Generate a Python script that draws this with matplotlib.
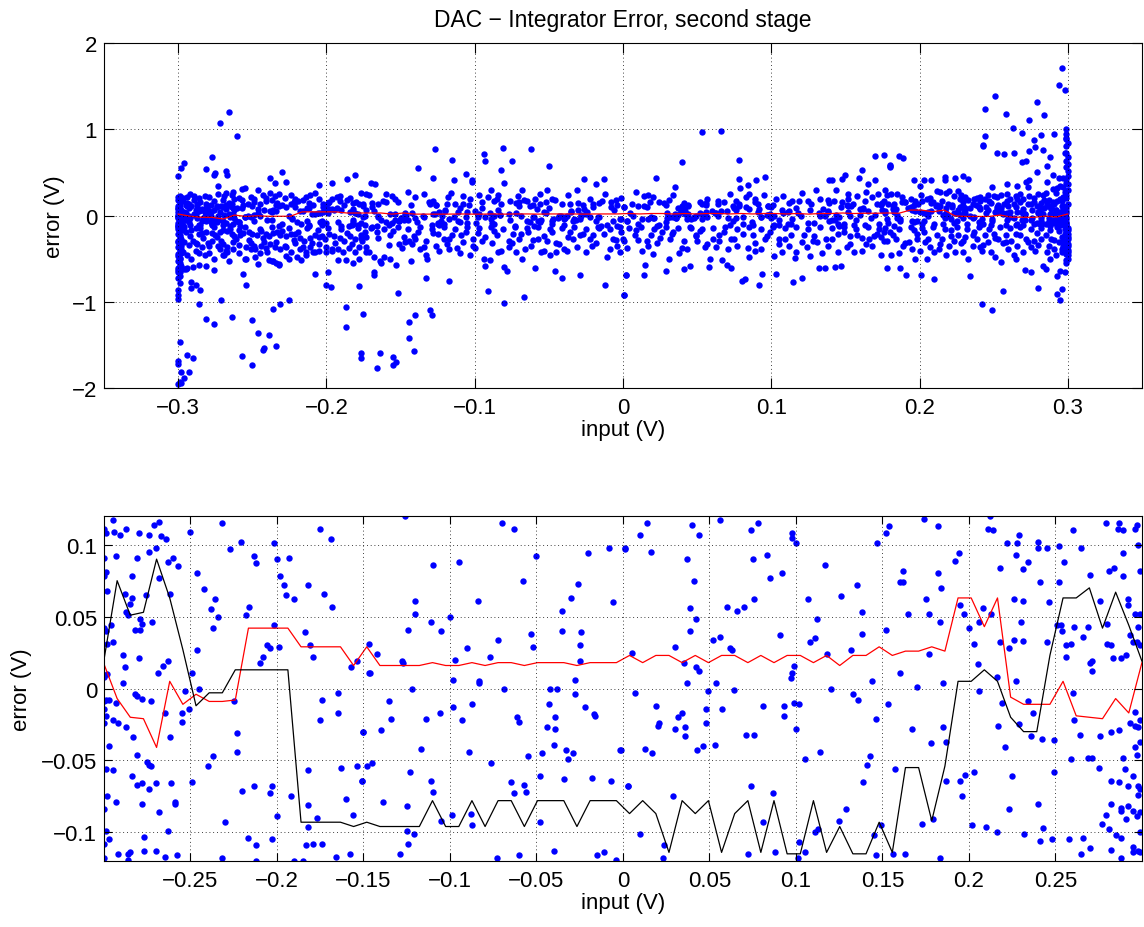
import numpy as np
import matplotlib
matplotlib.use('Agg')
import matplotlib.pyplot as plt
from matplotlib.ticker import FuncFormatter

plt.rcParams['font.family'] = ['Liberation Sans', 'DejaVu Sans']

# Bin centres of the input sweep (V)
bin_centres = [-0.3000, -0.2924, -0.2848, -0.2772, -0.2696, -0.2620, -0.2544, -0.2468,
               -0.2392, -0.2316, -0.2241, -0.2165, -0.2089, -0.2013, -0.1937, -0.1861,
               -0.1785, -0.1709, -0.1633, -0.1557, -0.1481, -0.1405, -0.1329, -0.1253,
               -0.1177, -0.1101, -0.1025, -0.0949, -0.0873, -0.0797, -0.0722, -0.0646,
               -0.0570, -0.0494, -0.0418, -0.0342, -0.0266, -0.0190, -0.0114, -0.0038,
               0.0038, 0.0114, 0.0190, 0.0266, 0.0342, 0.0418, 0.0494, 0.0570,
               0.0646, 0.0722, 0.0797, 0.0873, 0.0949, 0.1025, 0.1101, 0.1177,
               0.1253, 0.1329, 0.1405, 0.1481, 0.1557, 0.1633, 0.1709, 0.1785,
               0.1861, 0.1937, 0.2013, 0.2089, 0.2165, 0.2241, 0.2316, 0.2392,
               0.2468, 0.2544, 0.2620, 0.2696, 0.2772, 0.2848, 0.2924, 0.3000]

# Per-bin mean error (red)
bin_mean = [0.017, -0.007, -0.020, -0.021, -0.041, 0.005, -0.011, -0.004, -0.009, -0.009,
            -0.008, 0.042, 0.042, 0.042, 0.042, 0.029, 0.029, 0.029, 0.029, 0.016,
            0.029, 0.016, 0.016, 0.016, 0.016, 0.018, 0.016, 0.016, 0.018, 0.016,
            0.018, 0.018, 0.016, 0.018, 0.018, 0.018, 0.016, 0.018, 0.018, 0.018,
            0.023, 0.018, 0.023, 0.023, 0.018, 0.023, 0.018, 0.023, 0.023, 0.018,
            0.023, 0.018, 0.023, 0.023, 0.018, 0.023, 0.016, 0.023, 0.023, 0.029,
            0.023, 0.026, 0.026, 0.029, 0.026, 0.063, 0.063, 0.043, 0.063, -0.006,
            -0.011, -0.011, -0.011, 0.005, -0.019, -0.020, -0.021, -0.007, -0.017, 0.018]

# Per-bin median error (black)
bin_median = [0.020, 0.075, 0.051, 0.053, 0.090, 0.063, 0.027, -0.012, -0.003, -0.003,
              0.013, 0.013, 0.013, 0.013, 0.013, -0.093, -0.093, -0.093, -0.093, -0.096,
              -0.093, -0.096, -0.096, -0.096, -0.096, -0.078, -0.096, -0.096, -0.078, -0.096,
              -0.078, -0.078, -0.096, -0.078, -0.078, -0.078, -0.096, -0.078, -0.078, -0.078,
              -0.087, -0.078, -0.087, -0.114, -0.078, -0.087, -0.078, -0.114, -0.087, -0.078,
              -0.114, -0.078, -0.115, -0.115, -0.078, -0.114, -0.096, -0.115, -0.115, -0.093,
              -0.114, -0.055, -0.055, -0.092, -0.054, 0.005, 0.005, 0.013, 0.005, -0.020,
              -0.030, -0.030, 0.023, 0.063, 0.063, 0.070, 0.042, 0.067, 0.044, 0.019]

# Samples (input V, error V) with small error, left to right
fine_a = [(-0.295, 0.117), (-0.300, 0.111), (-0.299, 0.108), (-0.294, 0.109), (-0.291, 0.107),
          (-0.287, 0.111), (-0.280, 0.108), (-0.274, 0.107), (-0.271, 0.114), (-0.268, 0.116),
          (-0.267, 0.106), (-0.264, 0.104), (-0.250, 0.109), (-0.232, 0.115), (-0.221, 0.102),
          (-0.227, 0.097), (-0.202, 0.101), (-0.213, 0.092), (-0.212, 0.087), (-0.200, 0.090),
          (-0.193, 0.091), (-0.175, 0.111), (-0.169, 0.104), (-0.274, 0.095), (-0.270, 0.098),
          (-0.293, 0.092), (-0.281, 0.091), (-0.300, 0.091), (-0.263, 0.088), (-0.260, 0.091),
          (-0.257, 0.085), (-0.300, 0.078), (-0.299, 0.081), (-0.284, 0.078), (-0.268, 0.077),
          (-0.246, 0.080), (-0.242, 0.069), (-0.236, 0.062), (-0.238, 0.055), (-0.234, 0.050),
          (-0.237, 0.042), (-0.198, 0.078), (-0.196, 0.072), (-0.195, 0.065), (-0.190, 0.062),
          (-0.182, 0.072), (-0.173, 0.066), (-0.168, 0.057), (-0.216, 0.057), (-0.218, 0.051),
          (-0.298, 0.068), (-0.288, 0.066), (-0.284, 0.063), (-0.285, 0.059), (-0.287, 0.053),
          (-0.286, 0.051), (-0.279, 0.048), (-0.278, 0.045), (-0.272, 0.046), (-0.282, 0.041),
          (-0.279, 0.041), (-0.300, 0.042), (-0.299, 0.040), (-0.296, 0.044), (-0.298, 0.031),
          (-0.295, 0.032), (-0.202, 0.044), (-0.206, 0.030), (-0.204, 0.028), (-0.199, 0.029),
          (-0.208, 0.022), (-0.210, 0.018), (-0.246, 0.027), (-0.289, 0.023), (-0.280, 0.021),
          (-0.288, 0.015), (-0.262, 0.066), (-0.276, 0.065), (-0.269, 0.011), (-0.266, 0.016),
          (-0.263, 0.019), (-0.184, 0.039), (-0.181, 0.030), (-0.179, 0.022), (-0.157, 0.015),
          (-0.154, 0.019), (-0.147, 0.011), (-0.300, 0.008), (-0.298, 0.010), (-0.289, 0.004),
          (-0.249, 0.011), (-0.245, 0.000), (-0.253, -0.002), (-0.251, -0.014), (-0.255, -0.017),
          (-0.255, -0.023), (-0.225, -0.009), (-0.293, -0.010), (-0.282, -0.004), (-0.281, -0.005),
          (-0.278, -0.007), (-0.273, -0.009), (-0.300, -0.009), (-0.299, -0.008), (-0.297, -0.008),
          (-0.300, -0.014), (-0.299, -0.019), (-0.300, -0.024), (-0.295, -0.022), (-0.292, -0.024),
          (-0.287, -0.027), (-0.265, -0.017), (-0.262, -0.034), (-0.283, -0.034), (-0.297, -0.040),
          (-0.281, -0.046), (-0.275, -0.051), (-0.274, -0.053), (-0.273, -0.054), (-0.223, -0.031),
          (-0.223, -0.044), (-0.237, -0.047), (-0.240, -0.054), (-0.165, -0.003), (-0.174, -0.008),
          (-0.175, -0.022), (-0.165, -0.017), (-0.150, -0.030), (-0.163, -0.055), (-0.154, -0.054),
          (-0.151, -0.064), (-0.299, -0.056), (-0.295, -0.057), (-0.284, -0.061), (-0.281, -0.067),
          (-0.278, -0.066), (-0.274, -0.070), (-0.270, -0.066), (-0.261, -0.066), (-0.249, -0.065),
          (-0.220, -0.071), (-0.213, -0.068), (-0.203, -0.068), (-0.204, -0.073), (-0.192, -0.075),
          (-0.182, -0.057), (-0.182, -0.081), (-0.182, -0.096), (-0.177, -0.090), (-0.160, -0.077),
          (-0.156, -0.088), (-0.298, -0.075), (-0.293, -0.079), (-0.278, -0.080), (-0.268, -0.086),
          (-0.259, -0.080), (-0.259, -0.079), (-0.300, -0.084), (-0.299, -0.099), (-0.297, -0.105),
          (-0.300, -0.108), (-0.263, -0.099), (-0.277, -0.103), (-0.230, -0.093), (-0.217, -0.104),
          (-0.212, -0.109), (-0.203, -0.105), (-0.200, -0.089), (-0.183, -0.109), (-0.179, -0.108),
          (-0.174, -0.108), (-0.292, -0.115), (-0.286, -0.115), (-0.285, -0.114), (-0.277, -0.113),
          (-0.270, -0.113), (-0.258, -0.116), (-0.265, -0.117), (-0.286, -0.119), (-0.300, -0.118),
          (-0.232, -0.118), (-0.212, -0.120), (-0.190, -0.120), (-0.185, -0.120), (-0.166, -0.117),
          (-0.158, -0.115)]

fine_b = [(-0.126, 0.120), (-0.070, 0.115), (-0.063, 0.111), (-0.110, 0.086), (-0.095, 0.088),
          (-0.058, 0.075), (-0.050, 0.092), (-0.020, 0.094), (-0.008, 0.098), (0.001, 0.098),
          (-0.120, 0.061), (-0.120, 0.052), (-0.124, 0.041), (-0.111, 0.046), (-0.105, 0.040),
          (-0.100, 0.050), (-0.084, 0.061), (-0.072, 0.034), (-0.053, 0.038), (-0.052, 0.029),
          (-0.035, 0.054), (-0.030, 0.063), (-0.026, 0.073), (-0.035, 0.040), (-0.024, 0.039),
          (-0.025, 0.030), (-0.025, 0.019), (-0.006, 0.060), (-0.147, 0.031), (-0.142, 0.024),
          (-0.128, 0.019), (-0.127, 0.018), (-0.146, 0.011), (-0.097, 0.020), (-0.090, 0.028),
          (-0.077, 0.022), (-0.098, 0.006), (-0.083, 0.004), (-0.083, 0.005), (-0.069, 0.000),
          (-0.122, 0.000), (-0.028, 0.006), (-0.042, 0.000), (-0.038, 0.000), (-0.150, -0.030),
          (-0.140, -0.029), (-0.135, -0.009), (-0.134, -0.021), (-0.106, -0.017), (-0.114, -0.021),
          (-0.098, -0.013), (-0.093, -0.022), (-0.087, -0.011), (-0.061, -0.020), (-0.060, -0.023),
          (-0.043, -0.011), (-0.039, -0.020), (-0.039, -0.028), (-0.044, -0.027), (-0.040, -0.039),
          (-0.028, -0.004), (-0.022, -0.013), (-0.017, -0.018), (-0.016, -0.019), (-0.033, -0.043),
          (-0.032, -0.049), (-0.029, -0.045), (-0.047, -0.045), (-0.055, -0.047), (-0.089, -0.044),
          (-0.117, -0.042), (-0.002, -0.043), (-0.148, -0.054), (-0.145, -0.052), (-0.151, -0.064),
          (-0.123, -0.058), (-0.111, -0.064), (-0.110, -0.072), (-0.076, -0.052), (-0.065, -0.065),
          (-0.063, -0.073), (-0.057, -0.067), (-0.056, -0.072), (-0.048, -0.061), (-0.034, -0.063),
          (-0.018, -0.062), (-0.007, -0.064), (0.003, -0.068), (-0.139, -0.079), (-0.125, -0.082),
          (-0.105, -0.092), (-0.099, -0.088), (-0.088, -0.087), (-0.087, -0.095), (-0.048, -0.093),
          (-0.125, -0.099), (-0.121, -0.101), (-0.124, -0.108), (-0.129, -0.115), (-0.073, -0.118),
          (-0.060, -0.116), (-0.040, -0.113), (-0.015, -0.116), (-0.011, -0.114), (-0.004, -0.119)]

fine_c = [(0.014, 0.115), (0.010, 0.107), (0.001, 0.097), (0.016, 0.095), (0.040, 0.114),
          (0.044, 0.107), (0.037, 0.090), (0.041, 0.075), (0.056, 0.117), (0.078, 0.115),
          (0.074, 0.110), (0.075, 0.090), (0.083, 0.093), (0.085, 0.077), (0.092, 0.080),
          (0.098, 0.108), (0.098, 0.105), (0.100, 0.101), (0.117, 0.086), (0.147, 0.101),
          (0.039, 0.056), (0.042, 0.048), (0.039, 0.040), (0.060, 0.057), (0.066, 0.054),
          (0.070, 0.057), (0.076, 0.062), (0.052, 0.034), (0.056, 0.036), (0.062, 0.028),
          (0.063, 0.027), (0.091, 0.037), (0.107, 0.062), (0.112, 0.048), (0.111, 0.035),
          (0.108, 0.032), (0.126, 0.064), (0.135, 0.072), (0.138, 0.053), (0.138, 0.038),
          (0.132, 0.027), (0.005, 0.025), (0.030, 0.029), (0.035, 0.018), (0.042, 0.015),
          (0.044, 0.012), (0.037, 0.004), (0.049, -0.002), (0.054, 0.004), (0.064, -0.001),
          (0.099, 0.016), (0.098, 0.011), (0.097, 0.007), (0.118, 0.024), (0.120, 0.000),
          (0.144, 0.005), (0.007, -0.003), (0.019, -0.012), (0.021, -0.024), (0.020, -0.026),
          (0.032, -0.020), (0.034, -0.017), (0.030, -0.028), (0.036, -0.027), (0.036, -0.033),
          (0.048, -0.014), (0.048, -0.024), (0.057, -0.014), (0.043, -0.043), (0.046, -0.040),
          (0.053, -0.039), (0.071, -0.032), (0.076, -0.032), (0.081, -0.012), (0.093, -0.012),
          (0.093, -0.019), (0.099, -0.010), (0.102, -0.011), (0.100, -0.028), (0.105, -0.049),
          (0.114, -0.044), (0.133, -0.004), (0.136, -0.008), (0.146, -0.021), (-0.001, -0.043),
          (0.013, -0.042), (0.017, -0.045), (0.143, -0.047), (0.141, -0.053), (0.139, -0.065),
          (0.003, -0.068), (0.029, -0.075), (0.074, -0.068), (0.087, -0.073), (0.081, -0.093),
          (0.129, -0.084), (0.125, -0.092), (0.010, -0.101), (0.024, -0.109), (0.023, -0.118),
          (0.072, -0.115), (0.088, -0.114), (0.102, -0.107), (0.105, -0.114), (0.101, -0.118),
          (0.111, -0.100), (0.113, -0.098), (0.145, -0.102), (0.149, -0.095), (0.146, -0.116)]

fine_d = [(0.152, 0.108), (0.154, 0.113), (0.174, 0.118), (0.182, 0.113), (0.212, 0.120),
          (0.211, 0.111), (0.214, 0.110), (0.222, 0.101), (0.228, 0.101), (0.229, 0.107),
          (0.240, 0.102), (0.240, 0.098), (0.245, 0.098), (0.252, 0.099), (0.260, 0.110),
          (0.265, 0.098), (0.279, 0.115), (0.286, 0.111), (0.287, 0.115), (0.289, 0.110),
          (0.296, 0.111), (0.297, 0.114), (0.298, 0.100), (0.194, 0.094), (0.192, 0.089),
          (0.162, 0.082), (0.160, 0.074), (0.162, 0.074), (0.182, 0.080), (0.184, 0.070),
          (0.175, 0.062), (0.165, 0.052), (0.177, 0.052), (0.183, 0.046), (0.195, 0.058),
          (0.197, 0.052), (0.208, 0.056), (0.213, 0.052), (0.200, 0.042), (0.206, 0.046),
          (0.218, 0.084), (0.227, 0.093), (0.231, 0.083), (0.234, 0.088), (0.226, 0.062),
          (0.231, 0.061), (0.230, 0.046), (0.231, 0.033), (0.226, 0.034), (0.241, 0.074),
          (0.246, 0.060), (0.252, 0.074), (0.255, 0.088), (0.270, 0.079), (0.281, 0.082),
          (0.284, 0.084), (0.289, 0.078), (0.289, 0.094), (0.276, 0.061), (0.292, 0.062),
          (0.299, 0.082), (0.296, 0.052), (0.299, 0.052), (0.292, 0.058), (0.251, 0.044),
          (0.253, 0.044), (0.254, 0.040), (0.261, 0.043), (0.266, 0.036), (0.269, 0.043),
          (0.256, 0.030), (0.259, 0.031), (0.245, 0.032), (0.256, 0.022), (0.270, 0.018),
          (0.271, 0.019), (0.271, 0.012), (0.280, 0.045), (0.280, 0.031), (0.282, 0.030),
          (0.283, 0.021), (0.288, 0.021), (0.291, 0.023), (0.293, 0.037), (0.295, 0.032),
          (0.297, 0.032), (0.298, 0.043), (0.299, 0.030), (0.152, 0.041), (0.177, 0.024),
          (0.160, 0.011), (0.170, 0.001), (0.185, 0.004), (0.153, -0.011), (0.167, -0.028),
          (0.178, -0.038), (0.185, -0.027), (0.187, -0.037), (0.203, 0.031), (0.205, 0.017),
          (0.206, -0.002), (0.216, 0.008), (0.218, 0.032), (0.223, 0.028), (0.227, 0.005),
          (0.219, -0.010), (0.217, -0.026), (0.221, -0.041), (0.229, -0.025), (0.234, -0.009),
          (0.237, -0.017), (0.236, -0.033), (0.242, -0.035), (0.249, -0.036), (0.260, -0.003),
          (0.261, -0.022), (0.264, -0.032), (0.276, -0.033), (0.282, -0.030), (0.287, -0.029),
          (0.293, -0.024), (0.296, -0.016), (0.296, -0.026), (0.298, -0.027), (0.299, -0.022),
          (0.299, -0.037), (0.296, -0.041), (0.297, -0.046), (0.289, -0.048), (0.269, -0.048),
          (0.271, -0.048), (0.259, -0.049), (0.275, -0.055), (0.282, -0.064), (0.287, -0.065),
          (0.290, -0.056), (0.292, -0.068), (0.295, -0.061), (0.298, -0.068), (0.298, -0.074),
          (0.299, -0.070), (0.282, -0.080), (0.279, -0.088), (0.277, -0.094), (0.281, -0.098),
          (0.288, -0.083), (0.288, -0.085), (0.292, -0.082), (0.291, -0.091), (0.295, -0.085),
          (0.297, -0.089), (0.299, -0.086), (0.285, -0.102), (0.288, -0.104), (0.299, -0.100),
          (0.295, -0.110), (0.298, -0.113), (0.299, -0.114), (0.295, -0.114), (0.282, -0.112),
          (0.288, -0.118), (0.270, -0.111), (0.265, -0.115), (0.266, -0.104), (0.258, -0.105),
          (0.248, -0.105), (0.241, -0.106), (0.243, -0.097), (0.240, -0.080), (0.232, -0.101),
          (0.249, -0.058), (0.225, -0.061), (0.223, -0.084), (0.216, -0.100), (0.210, -0.096),
          (0.202, -0.095), (0.203, -0.058), (0.198, -0.060), (0.195, -0.064), (0.196, -0.075),
          (0.187, -0.064), (0.157, -0.056), (0.173, -0.094), (0.179, -0.091), (0.156, -0.115),
          (0.163, -0.115), (0.183, -0.118)]

# Samples with larger error (only inside the upper panel's range)
wide_a = [(-0.266, 1.20), (-0.272, 1.07), (-0.260, 0.92), (-0.277, 0.68), (-0.296, 0.61),
          (-0.298, 0.55), (-0.300, 0.46), (-0.281, 0.54), (-0.275, 0.49), (-0.276, 0.47),
          (-0.268, 0.52), (-0.267, 0.47), (-0.273, 0.34), (-0.238, 0.43), (-0.230, 0.51),
          (-0.235, 0.38), (-0.227, 0.39), (-0.205, 0.35), (-0.196, 0.38), (-0.186, 0.42),
          (-0.181, 0.47),
          (-0.299, 0.230), (-0.297, 0.205), (-0.294, 0.218), (-0.292, 0.247), (-0.289, 0.226),
          (-0.286, 0.198), (-0.282, 0.231), (-0.279, 0.212), (-0.273, 0.252), (-0.269, 0.224),
          (-0.268, 0.262), (-0.264, 0.236), (-0.259, 0.198), (-0.251, 0.214), (-0.243, 0.241),
          (-0.235, 0.228), (-0.232, 0.255), (-0.228, 0.207), (-0.224, 0.238), (-0.214, 0.219),
          (-0.211, 0.243), (-0.191, 0.226), (-0.173, 0.248), (-0.263, 0.27), (-0.257, 0.31),
          (-0.255, 0.32), (-0.246, 0.30), (-0.238, 0.26), (-0.208, 0.26), (-0.177, 0.26),
          (-0.299, 0.185), (-0.297, 0.163), (-0.294, 0.142), (-0.289, 0.176), (-0.285, 0.158),
          (-0.281, 0.128), (-0.276, 0.167), (-0.270, 0.181), (-0.264, 0.139), (-0.262, 0.188),
          (-0.257, 0.174), (-0.253, 0.131), (-0.249, 0.196), (-0.249, 0.152), (-0.241, 0.166),
          (-0.241, 0.204), (-0.237, 0.178), (-0.233, 0.149), (-0.230, 0.127), (-0.224, 0.136),
          (-0.221, 0.189), (-0.221, 0.161), (-0.219, 0.172), (-0.216, 0.183), (-0.212, 0.144),
          (-0.205, 0.194), (-0.202, 0.133), (-0.200, 0.122), (-0.198, 0.157), (-0.196, 0.186),
          (-0.193, 0.212), (-0.191, 0.168), (-0.186, 0.175), (-0.184, 0.201), (-0.182, 0.147),
          (-0.180, 0.158), (-0.175, 0.129),
          (-0.293, 0.128), (-0.287, 0.139), (-0.278, 0.126), (-0.266, 0.149), (-0.256, 0.122),
          (-0.245, 0.138), (-0.234, 0.124), (-0.222, 0.151), (-0.209, 0.127), (-0.199, 0.143),
          (-0.188, 0.125), (-0.178, 0.139),
          (-0.299, -0.15), (-0.297, -0.17), (-0.295, -0.19), (-0.291, -0.17), (-0.288, -0.15),
          (-0.286, -0.21), (-0.284, -0.20), (-0.281, -0.186), (-0.277, -0.20), (-0.275, -0.23),
          (-0.272, -0.194), (-0.270, -0.17), (-0.267, -0.183), (-0.264, -0.21), (-0.262, -0.24),
          (-0.259, -0.17), (-0.256, -0.20), (-0.252, -0.192), (-0.250, -0.21), (-0.247, -0.23),
          (-0.244, -0.185), (-0.241, -0.22), (-0.239, -0.24), (-0.236, -0.20), (-0.233, -0.196),
          (-0.231, -0.23), (-0.227, -0.24), (-0.224, -0.22), (-0.221, -0.21), (-0.218, -0.26),
          (-0.215, -0.29), (-0.211, -0.26), (-0.208, -0.23), (-0.205, -0.25), (-0.201, -0.27),
          (-0.198, -0.21), (-0.195, -0.24), (-0.191, -0.26), (-0.188, -0.29), (-0.184, -0.24),
          (-0.181, -0.27), (-0.177, -0.26), (-0.173, -0.25),
          (-0.299, -0.27), (-0.296, -0.31), (-0.293, -0.34), (-0.290, -0.29), (-0.287, -0.33),
          (-0.284, -0.37), (-0.280, -0.32), (-0.277, -0.30), (-0.273, -0.35), (-0.270, -0.33),
          (-0.267, -0.36), (-0.263, -0.31), (-0.259, -0.34), (-0.254, -0.37), (-0.251, -0.32),
          (-0.248, -0.39), (-0.244, -0.35), (-0.242, -0.31), (-0.238, -0.33), (-0.235, -0.36),
          (-0.231, -0.39), (-0.227, -0.37), (-0.224, -0.42), (-0.221, -0.32), (-0.218, -0.39),
          (-0.214, -0.42), (-0.211, -0.37), (-0.208, -0.42), (-0.205, -0.33), (-0.200, -0.37),
          (-0.196, -0.41), (-0.192, -0.39), (-0.189, -0.42), (-0.185, -0.38), (-0.181, -0.42),
          (-0.178, -0.37), (-0.173, -0.42),
          (-0.299, -0.39), (-0.297, -0.42), (-0.294, -0.46), (-0.291, -0.50), (-0.288, -0.41),
          (-0.286, -0.44), (-0.282, -0.46), (-0.279, -0.44), (-0.276, -0.50), (-0.272, -0.39),
          (-0.270, -0.46), (-0.267, -0.42), (-0.263, -0.39), (-0.259, -0.43), (-0.255, -0.50),
          (-0.251, -0.39), (-0.248, -0.48), (-0.245, -0.43), (-0.241, -0.38), (-0.239, -0.52),
          (-0.236, -0.53), (-0.234, -0.55), (-0.232, -0.56), (-0.227, -0.47), (-0.225, -0.51),
          (-0.220, -0.48), (-0.217, -0.52), (-0.214, -0.46), (-0.209, -0.42), (-0.205, -0.41),
          (-0.200, -0.42), (-0.196, -0.39), (-0.192, -0.52), (-0.187, -0.52), (-0.182, -0.55),
          (-0.178, -0.50),
          (-0.296, -0.128), (-0.292, -0.236), (-0.288, -0.318), (-0.285, -0.142), (-0.283, -0.262),
          (-0.279, -0.355), (-0.276, -0.137), (-0.274, -0.246), (-0.271, -0.298), (-0.268, -0.412),
          (-0.265, -0.161), (-0.261, -0.274), (-0.258, -0.226), (-0.255, -0.139), (-0.252, -0.287),
          (-0.249, -0.348), (-0.245, -0.158), (-0.243, -0.266), (-0.240, -0.421), (-0.237, -0.133),
          (-0.234, -0.305), (-0.230, -0.178), (-0.228, -0.352), (-0.225, -0.147), (-0.222, -0.284),
          (-0.219, -0.196), (-0.216, -0.362), (-0.213, -0.141), (-0.210, -0.315), (-0.206, -0.172),
          (-0.203, -0.238), (-0.199, -0.146), (-0.194, -0.318), (-0.190, -0.152), (-0.186, -0.208),
          (-0.183, -0.334), (-0.179, -0.143), (-0.176, -0.298),
          (-0.299, -0.50), (-0.298, -0.58), (-0.296, -0.62), (-0.294, -0.61), (-0.290, -0.60),
          (-0.286, -0.57), (-0.281, -0.59), (-0.276, -0.63), (-0.269, -0.46), (-0.266, -0.53),
          (-0.254, -0.50), (-0.246, -0.56), (-0.237, -0.53), (-0.232, -0.57), (-0.300, -0.66),
          (-0.299, -0.70), (-0.295, -0.62),
          (-0.256, -0.68), (-0.254, -0.81), (-0.291, -0.77), (-0.288, -0.80), (-0.285, -0.86),
          (-0.291, -0.84), (-0.286, -1.03), (-0.271, -0.98), (-0.281, -1.20), (-0.276, -1.26),
          (-0.264, -1.18), (-0.250, -1.21), (-0.246, -1.36), (-0.239, -1.39), (-0.243, -1.56),
          (-0.242, -1.54), (-0.234, -1.51), (-0.236, -1.08), (-0.231, -1.03), (-0.225, -0.98),
          (-0.257, -1.63), (-0.250, -1.73), (-0.294, -1.62), (-0.290, -1.65), (-0.299, -1.47),
          (-0.300, -1.72), (-0.298, -1.81), (-0.293, -1.82), (-0.296, -1.88), (-0.299, -1.93),
          (-0.300, -1.95), (-0.298, -1.94), (-0.300, -1.69), (-0.300, -0.97), (-0.300, -0.92),
          (-0.208, -0.68), (-0.199, -0.66), (-0.197, -0.83), (-0.187, -1.06), (-0.187, -1.29),
          (-0.178, -0.82), (-0.200, -0.80),
          (-0.300, 0.22), (-0.300, 0.18), (-0.299, 0.14), (-0.300, -0.13), (-0.299, -0.17),
          (-0.300, -0.21), (-0.299, -0.25), (-0.300, -0.29), (-0.299, -0.33), (-0.300, -0.37),
          (-0.299, -0.41), (-0.300, -0.45), (-0.299, -0.49), (-0.300, -0.53), (-0.299, -0.57),
          (-0.300, -0.61), (-0.299, -0.65), (-0.300, -0.72), (-0.299, -0.78), (-0.300, -0.86),
          (-0.300, -0.16), (-0.299, -0.23), (-0.300, -0.31), (-0.298, -0.39), (-0.300, -0.47),
          (-0.299, -0.55), (-0.300, -0.63), (-0.298, -0.27), (-0.298, -0.35), (-0.298, -0.43),
          (-0.298, 0.20)]

wide_b = [(-0.127, 0.77), (-0.115, 0.64), (-0.138, 0.55), (-0.128, 0.44), (-0.114, 0.41),
          (-0.106, 0.48), (-0.102, 0.41), (-0.102, 0.39), (-0.170, 0.38), (-0.167, 0.37),
          (-0.145, 0.27), (-0.094, 0.71), (-0.093, 0.63), (-0.081, 0.78), (-0.075, 0.63),
          (-0.082, 0.53), (-0.080, 0.38), (-0.062, 0.77), (-0.050, 0.57), (-0.068, 0.29),
          (-0.089, 0.30), (-0.051, 0.30), (-0.026, 0.42), (-0.018, 0.36), (-0.013, 0.42),
          (-0.012, 0.25), (-0.031, 0.29),
          (-0.171, 0.236), (-0.169, 0.142), (-0.162, 0.173), (-0.160, 0.245), (-0.160, 0.151),
          (-0.156, 0.228), (-0.154, 0.191), (-0.140, 0.217), (-0.134, 0.252), (-0.131, 0.155),
          (-0.130, 0.137), (-0.126, 0.124), (-0.118, 0.209), (-0.116, 0.263), (-0.113, 0.134),
          (-0.108, 0.128), (-0.103, 0.186), (-0.097, 0.232), (-0.091, 0.214), (-0.087, 0.168),
          (-0.085, 0.197), (-0.084, 0.242), (-0.071, 0.226), (-0.070, 0.153), (-0.067, 0.181),
          (-0.065, 0.164), (-0.059, 0.187), (-0.056, 0.131), (-0.048, 0.196), (-0.046, 0.178),
          (-0.037, 0.238), (-0.036, 0.129), (-0.030, 0.146), (-0.022, 0.192), (-0.020, 0.133),
          (-0.014, 0.171), (-0.008, 0.154), (-0.005, 0.183), (-0.001, 0.204), (-0.108, 0.223),
          (-0.076, 0.172), (-0.056, 0.251),
          (-0.165, 0.131), (-0.152, 0.158), (-0.143, 0.124), (-0.128, 0.172), (-0.119, 0.139),
          (-0.104, 0.127), (-0.095, 0.161), (-0.082, 0.128), (-0.072, 0.141), (-0.061, 0.126),
          (-0.052, 0.162), (-0.041, 0.133), (-0.027, 0.127), (-0.016, 0.149), (-0.004, 0.126),
          (-0.177, -0.23), (-0.174, -0.19), (-0.170, -0.15), (-0.166, -0.196), (-0.173, -0.36),
          (-0.171, -0.42), (-0.168, -0.48), (-0.164, -0.53), (-0.163, -0.55), (-0.161, -0.48),
          (-0.168, -0.69), (-0.168, -0.66), (-0.158, -0.34), (-0.157, -0.51), (-0.155, -0.184),
          (-0.153, -0.57), (-0.151, -0.33), (-0.148, -0.25), (-0.147, -0.31), (-0.144, -0.29),
          (-0.143, -0.53), (-0.142, -0.33), (-0.140, -0.27), (-0.138, -0.193), (-0.137, -0.39),
          (-0.134, -0.36), (-0.133, -0.46), (-0.132, -0.50), (-0.128, -0.20), (-0.126, -0.35),
          (-0.124, -0.41), (-0.121, -0.27), (-0.119, -0.33), (-0.117, -0.39), (-0.115, -0.23),
          (-0.112, -0.38), (-0.110, -0.44), (-0.108, -0.31), (-0.106, -0.187), (-0.103, -0.46),
          (-0.101, -0.27), (-0.100, -0.38), (-0.098, -0.198), (-0.095, -0.29), (-0.094, -0.50),
          (-0.093, -0.58), (-0.090, -0.52), (-0.088, -0.32), (-0.087, -0.182), (-0.084, -0.42),
          (-0.082, -0.41), (-0.080, -0.60), (-0.078, -0.64), (-0.077, -0.29), (-0.075, -0.32),
          (-0.074, -0.22), (-0.072, -0.42), (-0.070, -0.27), (-0.068, -0.50), (-0.066, -0.39),
          (-0.064, -0.191), (-0.062, -0.35), (-0.059, -0.61), (-0.057, -0.27), (-0.055, -0.42),
          (-0.053, -0.41), (-0.051, -0.29), (-0.049, -0.46), (-0.048, -0.186), (-0.046, -0.64),
          (-0.045, -0.42), (-0.043, -0.33), (-0.041, -0.73), (-0.040, -0.39), (-0.038, -0.41),
          (-0.036, -0.194), (-0.034, -0.27), (-0.031, -0.37), (-0.029, -0.69), (-0.027, -0.21),
          (-0.025, -0.42), (-0.022, -0.27), (-0.020, -0.23), (-0.018, -0.32), (-0.016, -0.14),
          (-0.012, -0.81), (-0.011, -0.48), (-0.009, -0.39), (-0.007, -0.27), (-0.004, -0.35),
          (-0.002, -0.42), (0.000, -0.27), (0.002, -0.69),
          (-0.169, -0.138), (-0.165, -0.262), (-0.161, -0.151), (-0.157, -0.228), (-0.152, -0.134),
          (-0.149, -0.372), (-0.145, -0.162), (-0.141, -0.241), (-0.137, -0.128), (-0.133, -0.295),
          (-0.129, -0.152), (-0.125, -0.218), (-0.121, -0.137), (-0.117, -0.268), (-0.113, -0.156),
          (-0.109, -0.223), (-0.105, -0.131), (-0.101, -0.348), (-0.097, -0.147), (-0.093, -0.252),
          (-0.089, -0.129), (-0.085, -0.231), (-0.081, -0.158), (-0.077, -0.362), (-0.073, -0.136),
          (-0.069, -0.212), (-0.065, -0.147), (-0.061, -0.279), (-0.057, -0.133), (-0.053, -0.236),
          (-0.049, -0.152), (-0.045, -0.321), (-0.041, -0.141), (-0.037, -0.254), (-0.033, -0.128),
          (-0.029, -0.225), (-0.025, -0.162), (-0.021, -0.351), (-0.017, -0.139), (-0.013, -0.213),
          (-0.009, -0.157), (-0.005, -0.289), (-0.002, -0.134),
          (-0.175, -1.14), (-0.177, -1.59), (-0.177, -1.65), (-0.164, -1.59), (-0.166, -1.77),
          (-0.155, -1.64), (-0.153, -1.70), (-0.155, -1.73), (-0.144, -1.23), (-0.140, -1.15),
          (-0.144, -1.42), (-0.141, -1.57), (-0.130, -1.09), (-0.129, -1.15), (-0.152, -0.90),
          (-0.133, -0.73), (-0.117, -0.76), (-0.091, -0.88), (-0.080, -1.02), (-0.067, -0.94),
          (0.001, -0.92)]

wide_c = [(0.053, 0.97), (0.066, 0.98), (0.040, 0.62), (0.078, 0.64), (0.022, 0.44),
          (0.035, 0.33), (0.078, 0.42), (0.090, 0.41), (0.096, 0.45), (0.084, 0.35),
          (0.170, 0.69), (0.176, 0.70), (0.180, 0.57), (0.161, 0.53), (0.165, 0.36),
          (0.170, 0.41), (0.150, 0.47), (0.139, 0.41), (0.141, 0.41), (0.159, 0.44),
          (0.148, 0.42), (0.130, 0.29), (0.144, 0.29), (0.152, 0.25), (0.177, 0.29),
          (0.009, 0.268), (0.014, 0.227), (0.017, 0.243), (0.020, 0.214), (0.024, 0.153),
          (0.028, 0.146), (0.031, 0.174), (0.034, 0.232), (0.044, 0.124), (0.052, 0.162),
          (0.056, 0.148), (0.057, 0.193), (0.064, 0.137), (0.068, 0.156), (0.072, 0.251),
          (0.076, 0.164), (0.079, 0.318), (0.083, 0.218), (0.085, 0.247), (0.089, 0.189),
          (0.091, 0.131), (0.095, 0.236), (0.103, 0.192), (0.108, 0.226), (0.112, 0.143),
          (0.119, 0.172), (0.121, 0.258), (0.125, 0.167), (0.133, 0.194), (0.138, 0.176),
          (0.142, 0.163), (0.148, 0.152), (0.152, 0.187), (0.155, 0.138), (0.158, 0.229),
          (0.164, 0.272), (0.168, 0.215), (0.172, 0.248), (0.175, 0.142),
          (0.006, 0.132), (0.018, 0.158), (0.029, 0.126), (0.041, 0.147), (0.053, 0.129),
          (0.064, 0.171), (0.078, 0.134), (0.089, 0.152), (0.101, 0.127), (0.114, 0.163),
          (0.127, 0.131), (0.139, 0.144), (0.151, 0.125), (0.163, 0.166), (0.171, 0.136),
          (-0.001, -0.19), (0.001, -0.29), (0.003, -0.38), (0.002, -0.69), (0.001, -0.92),
          (0.009, -0.17), (0.010, -0.28), (0.013, -0.41), (0.014, -0.69), (0.015, -0.57),
          (0.016, -0.29), (0.019, -0.23), (0.020, -0.45), (0.023, -0.32), (0.026, -0.186),
          (0.029, -0.64), (0.031, -0.51), (0.032, -0.27), (0.034, -0.197), (0.038, -0.44),
          (0.040, -0.38), (0.041, -0.62), (0.043, -0.39), (0.045, -0.59), (0.046, -0.14),
          (0.049, -0.23), (0.050, -0.29), (0.052, -0.183), (0.055, -0.36), (0.058, -0.60),
          (0.059, -0.50), (0.061, -0.27), (0.063, -0.37), (0.065, -0.30), (0.067, -0.52),
          (0.068, -0.192), (0.070, -0.57), (0.071, -0.39), (0.073, -0.61), (0.075, -0.27),
          (0.077, -0.35), (0.080, -0.76), (0.082, -0.74), (0.084, -0.38), (0.085, -0.48),
          (0.088, -0.23), (0.089, -0.32), (0.092, -0.80), (0.093, -0.39), (0.094, -0.68),
          (0.096, -0.27), (0.099, -0.188), (0.102, -0.47), (0.103, -0.68), (0.105, -0.33),
          (0.107, -0.42), (0.109, -0.27), (0.112, -0.35), (0.115, -0.77), (0.116, -0.49),
          (0.117, -0.42), (0.121, -0.72), (0.122, -0.23), (0.124, -0.37), (0.126, -0.47),
          (0.128, -0.29), (0.131, -0.31), (0.132, -0.61), (0.134, -0.44), (0.136, -0.61),
          (0.138, -0.35), (0.141, -0.27), (0.143, -0.60), (0.145, -0.42), (0.147, -0.59),
          (0.149, -0.195), (0.151, -0.37), (0.153, -0.24), (0.156, -0.42), (0.158, -0.23),
          (0.161, -0.41), (0.164, -0.33), (0.166, -0.27), (0.168, -0.35), (0.171, -0.21),
          (0.174, -0.46), (0.176, -0.29), (0.178, -0.61),
          (0.004, -0.148), (0.008, -0.231), (0.012, -0.137), (0.017, -0.352), (0.021, -0.156),
          (0.025, -0.262), (0.029, -0.131), (0.033, -0.218), (0.037, -0.149), (0.041, -0.297),
          (0.045, -0.128), (0.049, -0.241), (0.053, -0.157), (0.057, -0.333), (0.061, -0.142),
          (0.065, -0.226), (0.069, -0.131), (0.073, -0.274), (0.077, -0.158), (0.081, -0.219),
          (0.085, -0.136), (0.089, -0.412), (0.093, -0.152), (0.097, -0.238), (0.101, -0.129),
          (0.105, -0.267), (0.109, -0.147), (0.113, -0.221), (0.117, -0.138), (0.121, -0.305),
          (0.125, -0.156), (0.129, -0.234), (0.133, -0.131), (0.137, -0.272), (0.141, -0.148),
          (0.145, -0.215), (0.149, -0.139), (0.153, -0.328), (0.157, -0.152), (0.161, -0.257),
          (0.165, -0.136), (0.169, -0.241), (0.173, -0.158)]

wide_d = [(0.296, 1.71), (0.294, 1.51), (0.298, 1.46), (0.251, 1.38), (0.244, 1.24),
          (0.258, 1.18), (0.279, 1.32), (0.284, 1.16), (0.274, 1.11), (0.263, 1.01),
          (0.299, 1.00), (0.299, 0.95), (0.299, 0.89), (0.291, 0.95), (0.282, 0.93),
          (0.244, 0.92), (0.269, 0.96), (0.277, 0.88), (0.299, 0.81), (0.299, 0.72),
          (0.298, 0.73), (0.243, 0.82), (0.243, 0.80), (0.252, 0.73), (0.257, 0.71),
          (0.264, 0.73), (0.274, 0.75), (0.278, 0.79), (0.283, 0.76), (0.288, 0.68),
          (0.272, 0.63), (0.269, 0.62), (0.299, 0.63), (0.299, 0.56), (0.286, 0.57),
          (0.290, 0.47), (0.279, 0.50), (0.294, 0.43), (0.297, 0.44), (0.299, 0.38),
          (0.286, 0.39), (0.274, 0.41), (0.272, 0.39), (0.266, 0.34), (0.259, 0.36),
          (0.249, 0.33), (0.233, 0.42), (0.229, 0.46), (0.224, 0.43), (0.217, 0.45),
          (0.217, 0.41), (0.208, 0.41), (0.203, 0.41), (0.196, 0.41), (0.200, 0.34),
          (0.180, 0.58), (0.180, 0.56), (0.186, 0.69), (0.189, 0.67),
          (0.178, 0.232), (0.181, 0.244), (0.185, 0.252), (0.188, 0.217), (0.190, 0.158),
          (0.194, 0.193), (0.197, 0.163), (0.201, 0.236), (0.205, 0.188), (0.207, 0.205),
          (0.212, 0.287), (0.214, 0.274), (0.218, 0.262), (0.220, 0.279), (0.223, 0.226),
          (0.226, 0.283), (0.228, 0.238), (0.231, 0.213), (0.233, 0.174), (0.237, 0.192),
          (0.239, 0.208), (0.241, 0.219), (0.244, 0.197), (0.246, 0.234), (0.250, 0.226),
          (0.252, 0.213), (0.255, 0.241), (0.259, 0.247), (0.261, 0.196), (0.265, 0.229),
          (0.268, 0.248), (0.270, 0.186), (0.273, 0.33), (0.274, 0.221), (0.277, 0.204),
          (0.280, 0.253), (0.283, 0.232), (0.285, 0.264), (0.287, 0.174), (0.290, 0.31),
          (0.292, 0.256), (0.293, 0.32), (0.295, 0.34), (0.297, 0.33), (0.298, 0.27),
          (0.299, 0.236), (0.297, 0.21), (0.295, 0.186), (0.293, 0.168), (0.290, 0.152),
          (0.286, 0.131), (0.282, 0.147), (0.277, 0.162), (0.273, 0.128), (0.268, 0.155),
          (0.264, 0.138), (0.259, 0.171), (0.253, 0.124), (0.248, 0.149), (0.241, 0.163),
          (0.236, 0.135), (0.229, 0.157), (0.222, 0.127), (0.215, 0.173), (0.208, 0.141),
          (0.202, 0.166), (0.196, 0.126), (0.190, 0.152), (0.183, 0.137), (0.176, 0.171),
          (0.179, 0.132), (0.188, 0.161), (0.199, 0.128), (0.209, 0.152), (0.219, 0.133),
          (0.227, 0.186), (0.238, 0.127), (0.247, 0.171), (0.257, 0.135), (0.266, 0.192),
          (0.275, 0.129), (0.284, 0.178), (0.291, 0.136), (0.296, 0.163), (0.299, 0.28),
          (0.300, 0.36), (0.299, 0.42),
          (0.174, -0.25), (0.176, -0.19), (0.178, -0.29), (0.180, -0.196), (0.181, -0.46),
          (0.184, -0.27), (0.186, -0.44), (0.187, -0.61), (0.189, -0.35), (0.191, -0.69),
          (0.193, -0.31), (0.195, -0.39), (0.196, -0.17), (0.197, -0.50), (0.198, -0.27),
          (0.200, -0.41), (0.201, -0.69), (0.203, -0.187), (0.204, -0.31), (0.205, -0.50),
          (0.207, -0.37), (0.210, -0.42), (0.210, -0.74), (0.212, -0.23), (0.214, -0.33),
          (0.215, -0.27), (0.218, -0.46), (0.220, -0.35), (0.221, -0.17), (0.223, -0.29),
          (0.224, -0.42), (0.226, -0.23), (0.228, -0.32), (0.229, -0.42), (0.231, -0.25),
          (0.233, -0.50), (0.234, -0.70), (0.236, -0.35), (0.237, -0.192), (0.239, -0.27),
          (0.241, -0.37), (0.242, -0.41), (0.244, -0.23), (0.246, -0.31), (0.248, -0.42),
          (0.250, -0.21), (0.251, -0.48), (0.253, -0.27), (0.255, -0.54), (0.256, -0.32),
          (0.258, -0.23), (0.260, -0.39), (0.262, -0.29), (0.264, -0.46), (0.265, -0.50),
          (0.266, -0.35), (0.268, -0.23), (0.270, -0.42), (0.271, -0.63), (0.273, -0.31),
          (0.275, -0.66), (0.275, -0.37), (0.277, -0.29), (0.278, -0.41), (0.280, -0.84),
          (0.280, -0.34), (0.282, -0.27), (0.283, -0.58), (0.285, -0.62), (0.286, -0.42),
          (0.287, -0.35), (0.288, -0.50), (0.289, -0.27), (0.291, -0.39), (0.292, -0.46),
          (0.293, -0.70), (0.294, -0.31), (0.294, -0.185), (0.295, -0.64), (0.296, -0.39),
          (0.296, -0.42), (0.297, -0.29), (0.297, -0.35), (0.298, -0.21), (0.298, -0.66),
          (0.299, -0.44), (0.299, -0.32), (0.299, -0.23), (0.299, -0.39), (0.300, -0.17),
          (0.300, -0.27), (0.300, -0.35), (0.300, -0.42), (0.296, -0.85), (0.293, -0.91),
          (0.295, -0.98), (0.242, -1.03), (0.249, -1.09), (0.256, -0.87),
          (0.177, -0.141), (0.182, -0.226), (0.186, -0.152), (0.190, -0.318), (0.194, -0.137),
          (0.198, -0.212), (0.202, -0.146), (0.206, -0.274), (0.209, -0.129), (0.213, -0.387),
          (0.217, -0.158), (0.221, -0.241), (0.225, -0.133), (0.229, -0.296), (0.232, -0.151),
          (0.236, -0.222), (0.240, -0.137), (0.243, -0.341), (0.247, -0.162), (0.251, -0.257),
          (0.254, -0.128), (0.258, -0.311), (0.261, -0.149), (0.265, -0.218), (0.268, -0.135),
          (0.272, -0.267), (0.275, -0.154), (0.279, -0.198), (0.282, -0.141), (0.285, -0.229),
          (0.288, -0.163), (0.291, -0.281), (0.293, -0.132), (0.296, -0.248), (0.298, -0.155),
          (0.299, -0.127), (0.300, -0.21), (0.299, -0.29), (0.300, -0.46), (0.299, -0.52),
          (0.300, 0.30), (0.299, 0.20), (0.300, 0.13), (0.300, -0.14), (0.299, -0.20),
          (0.300, -0.25), (0.299, -0.30), (0.300, -0.33), (0.299, -0.37), (0.300, -0.40),
          (0.299, -0.45), (0.300, -0.50), (0.299, -0.55), (0.300, 0.68), (0.300, 0.84),
          (0.299, 0.90), (0.300, 0.60), (0.300, 0.52), (0.300, 0.46)]

samples = np.array(fine_a + fine_b + fine_c + fine_d + wide_a + wide_b + wide_c + wide_d)
input_v = samples[:, 0]
error_v = samples[:, 1]


def matlab_fmt(v, pos):
    return ('%g' % round(v, 4)).replace('-', '\u2212')


def style_axes(ax, tick_len, ylabel_pad):
    ax.tick_params(direction='in', top=True, right=True, length=tick_len, width=0.8,
                   labelsize=16)
    ax.tick_params(axis='x', pad=6.5)
    ax.tick_params(axis='y', pad=5)
    ax.grid(True, linestyle=(0, (1, 3.5)), color='k', linewidth=0.6)
    ax.set_axisbelow(False)
    for s in ax.spines.values():
        s.set_linewidth(0.8)
    ax.xaxis.set_major_formatter(FuncFormatter(matlab_fmt))
    ax.yaxis.set_major_formatter(FuncFormatter(matlab_fmt))
    ax.set_xlabel('input (V)', fontsize=16, labelpad=1)
    ax.set_ylabel('error (V)', fontsize=16, labelpad=ylabel_pad)


fig = plt.figure(figsize=(11.44, 9.28), dpi=100)

# Upper panel: full error range
ax1 = fig.add_axes([0.0909, 0.5808, 0.9073, 0.3718])
ax1.plot(input_v, error_v, 'o', color='b', ms=4.6, mec='none')
ax1.plot(bin_centres, bin_mean, '-', color='r', lw=0.9)
ax1.set_xlim(-0.35, 0.35)
ax1.set_ylim(-2, 2)
ax1.set_xticks([-0.3, -0.2, -0.1, 0, 0.1, 0.2, 0.3])
ax1.set_yticks([-2, -1, 0, 1, 2])
style_axes(ax1, 7, 5)
ax1.set_title('DAC \u2212 Integrator Error, second stage', fontsize=16.5, pad=12)

# Lower panel: zoom on the small-error region
ax2 = fig.add_axes([0.0909, 0.0711, 0.9073, 0.3718])
ax2.plot(input_v, error_v, 'o', color='b', ms=4.6, mec='none')
ax2.plot(bin_centres, bin_mean, '-', color='r', lw=0.9)
ax2.plot(bin_centres, bin_median, '-', color='k', lw=0.9)
ax2.set_xlim(-0.3, 0.3)
ax2.set_ylim(-0.12, 0.12)
ax2.set_xticks([-0.25, -0.2, -0.15, -0.1, -0.05, 0, 0.05, 0.1, 0.15, 0.2, 0.25])
ax2.set_yticks([-0.1, -0.05, 0, 0.05, 0.1])
style_axes(ax2, 6, 6)

fig.savefig('out.png', dpi=100)
